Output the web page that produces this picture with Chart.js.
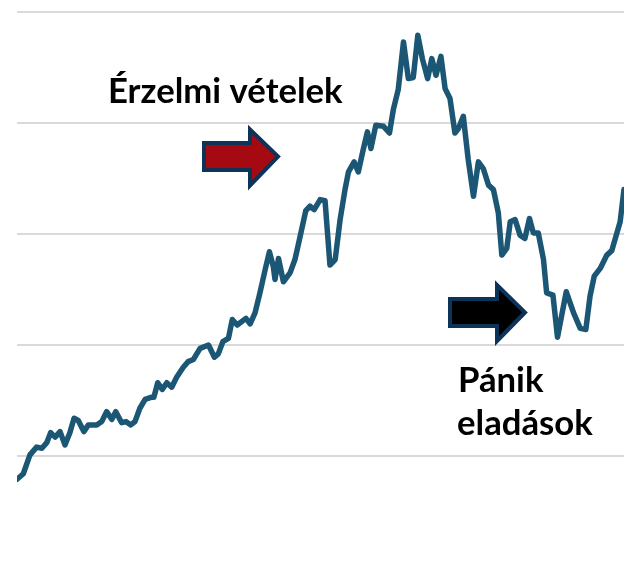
<!DOCTYPE html>
<html>
<head>
<meta charset="utf-8">
<script src="https://cdn.jsdelivr.net/npm/chart.js@4/dist/chart.umd.min.js"></script>
<style>
  html, body { margin: 0; padding: 0; background: #fff; overflow: hidden; width: 624px; height: 566px; }
  canvas { display: block; }
</style>
</head>
<body>
<canvas id="chart" width="624" height="570"></canvas>
<script>
// hónap (index) és árfolyam értékek
const months = [
  0, 1.8, 3.7, 5.6, 7.1, 8.5, 9.6, 10.9, 12.3, 13.7, 15.1, 16.3, 17.5, 19.1, 20.4, 22.8,
  24.2, 25.6, 27.1, 28.2, 29.9, 31.1, 32.5, 33.7, 35.1, 36.6, 38.5, 39.1, 40.2, 41.5, 42.8,
  44.2, 45.6, 47.5, 48.9, 50.4, 52.3, 54.7, 56.4, 57.5, 58.8, 60.4, 61.5, 62.9, 65.4, 66.6,
  68, 69.4, 70.9, 72.1, 73.2, 73.7, 74.7, 76.1, 78, 79.4, 80.9, 82.5, 83.7, 84.9, 86.6,
  88, 89.4, 90.9, 92.3, 93.7, 94.7, 96.3, 97.5, 98.9, 100.1, 101.1, 102.5, 104.7, 106.4,
  107.5, 108.9, 110.4, 111.8, 113.2, 114.5, 115.8, 117.3, 118.5, 119.7, 121.1, 122.3,
  123.7, 125.1, 126.1, 127.5, 128.9, 130.4, 131.8, 133.2, 134.7, 136.1, 137.5, 138.5,
  139.9, 140.9, 142.3, 143.7, 145.1, 146.4, 147.5, 148.9, 150.4, 151.3, 153.1, 154.4,
  156.9, 159, 160.9, 162.5, 163.7, 164.9, 166.6, 168.5, 169.9, 171.1, 172.3, 173.4
];
const prices = [
  79, 84, 101, 108, 107, 112, 121, 117, 122, 110, 121, 134, 132, 122, 128, 128,
  131, 140, 133, 140, 130, 131, 128, 131, 143, 151, 153, 153, 166, 160, 166,
  162, 171, 180, 185, 187, 197, 200, 189, 192, 203, 206, 223, 218, 224, 219,
  229, 247, 268, 284, 271, 259, 278, 257, 265, 277, 298, 321, 325, 322, 331,
  330, 272, 277, 313, 340, 356, 365, 356, 376, 392, 377, 398, 397, 391,
  412, 430, 473, 440, 441, 479, 458, 440, 458, 443, 460, 431,
  422, 391, 395, 406, 367, 334, 365, 359, 344, 340, 319, 281,
  287, 311, 313, 299, 296, 314, 301, 301, 277, 247, 245, 207,
  248, 229, 215, 214, 244, 262, 269, 281, 285, 298, 311, 340
];
const yTicks = [0, 100, 200, 300, 400, 500];

const LINE_COLOR = '#1b5674';
const GRID_COLOR = '#d9d9d9';
const OUTLINE = '#0d3358';

// nyíl rajzolása (bal szél, törzs teteje/alja, fej teteje/alja, fej töve, csúcs)
function drawArrow(ctx, a, fill) {
  const cy = (a.bodyTop + a.bodyBottom) / 2;
  ctx.beginPath();
  ctx.moveTo(a.x0, a.bodyTop);
  ctx.lineTo(a.headX, a.bodyTop);
  ctx.lineTo(a.headX, a.headTop);
  ctx.lineTo(a.tip, cy);
  ctx.lineTo(a.headX, a.headBottom);
  ctx.lineTo(a.headX, a.bodyBottom);
  ctx.lineTo(a.x0, a.bodyBottom);
  ctx.closePath();
  ctx.fillStyle = fill;
  ctx.fill();
  ctx.lineWidth = 4;
  ctx.lineJoin = 'miter';
  ctx.strokeStyle = OUTLINE;
  ctx.stroke();
}

const annotations = {
  id: 'annotations',
  afterDraw(chart) {
    const ctx = chart.ctx;
    ctx.save();
    // betűméret a felirat szélességéhez igazítva
    ctx.font = "bold 30px Lato, 'Open Sans', sans-serif";
    const size = 30 * 235 / ctx.measureText('Érzelmi vételek').width;
    ctx.font = `bold ${size.toFixed(1)}px Lato, 'Open Sans', sans-serif`;
    ctx.fillStyle = '#000';
    ctx.textBaseline = 'alphabetic';
    ctx.textAlign = 'left';
    ctx.fillText('Érzelmi vételek', 108, 103);
    ctx.fillText('Pánik', 458, 392);
    ctx.fillText('eladások', 457, 435);

    drawArrow(ctx, { x0: 204, bodyTop: 143, bodyBottom: 170, headX: 250, headTop: 129.5, headBottom: 185.5, tip: 278 }, '#a50a12');
    drawArrow(ctx, { x0: 450, bodyTop: 299, bodyBottom: 326, headX: 497, headTop: 285, headBottom: 341, tip: 525 }, '#000000');
    ctx.restore();
  }
};

new Chart(document.getElementById('chart'), {
  type: 'line',
  data: {
    datasets: [{
      data: months.map((m, i) => ({ x: m, y: prices[i] })),
      borderColor: LINE_COLOR,
      borderWidth: 5.5,
      pointRadius: 0,
      tension: 0,
      borderJoinStyle: 'round',
      borderCapStyle: 'round',
      fill: false,
    }],
  },
  options: {
    responsive: false,
    animation: false,
    layout: { padding: { left: 17, right: 0, top: 12, bottom: 3 } },
    scales: {
      x: {
        type: 'linear',
        min: 0,
        max: 173.4,
        display: false,
      },
      y: {
        min: yTicks[0],
        max: yTicks[yTicks.length - 1],
        afterBuildTicks: (axis) => { axis.ticks = yTicks.map(v => ({ value: v })); },
        ticks: { display: false },
        grid: { color: GRID_COLOR, lineWidth: 2, drawTicks: false },
        border: { display: false },
      },
    },
    plugins: {
      legend: { display: false },
      tooltip: { enabled: false },
    },
  },
  plugins: [annotations],
});
</script>
</body>
</html>
